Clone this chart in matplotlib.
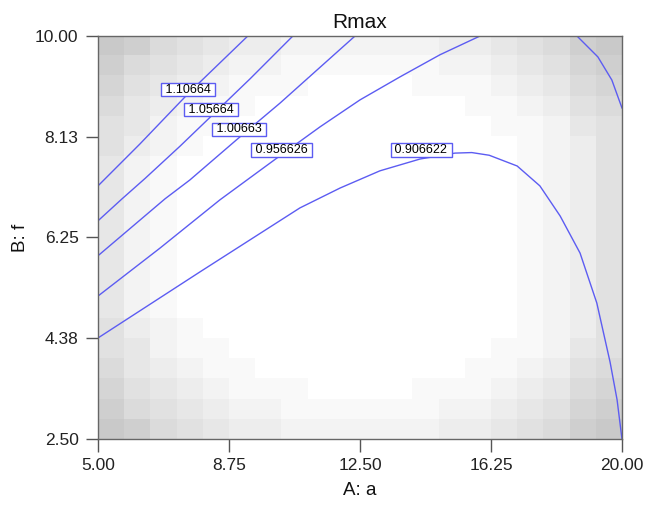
import numpy as np
import matplotlib.pyplot as plt

plt.rcParams['font.family'] = ['Liberation Sans', 'DejaVu Sans']

# design space shading, 0 = white .. 9 = darkest, top row (f = 10) first
shade_rows = [
    "98654332222223345689",
    "86543221111112234578",
    "75432111000011123467",
    "64321100000000112356",
    "54211000000000011245",
    "53210000000000001235",
    "42100000000000001235",
    "42100000000000001235",
    "42100000000000001235",
    "42100000000000001235",
    "42100000000000001235",
    "42100000000000001235",
    "42100000000000001235",
    "42100000000000001235",
    "53210000000000001235",
    "54211000000000011245",
    "64321100000000112356",
    "75432111000011123467",
    "86543221111112234578",
    "98654332222223345689",
]

# contour lines of Rmax (A: a, B: f)
a_1106 = [5.00, 6.20, 7.63, 9.29]
f_1106 = [7.21, 7.99, 8.96, 10.00]

a_1057 = [5.00, 5.69, 6.35, 7.35, 8.23, 9.35, 10.58]
f_1057 = [6.56, 6.97, 7.35, 7.95, 8.50, 9.20, 10.00]

a_1007 = [5.00, 6.92, 7.63, 9.06, 10.21, 12.36]
f_1007 = [5.91, 6.97, 7.32, 8.12, 8.75, 10.00]

a_0957 = [5.00, 6.77, 8.49, 10.21, 11.36, 12.50, 13.65, 14.79, 15.94]
f_0957 = [5.16, 6.05, 6.95, 7.77, 8.31, 8.81, 9.24, 9.65, 10.00]

a_0907 = [5.00, 7.92, 10.78, 11.93, 13.07, 14.22, 15.22, 15.70, 16.20,
          17.00, 17.65, 18.23, 18.80, 19.28, 19.66, 19.86, 20.00]
f_0907 = [4.38, 5.61, 6.80, 7.17, 7.49, 7.71, 7.82, 7.83, 7.78,
          7.58, 7.21, 6.65, 5.96, 5.03, 3.93, 3.23, 2.50]

a_corner = [18.71, 19.31, 19.71, 20.00]
f_corner = [10.00, 9.61, 9.18, 8.66]

contour_labels = ["1.10664", "1.05664", "1.00663", "0.956626", "0.906622"]
label_a = [7.58, 8.23, 9.04, 10.25, 14.25]
label_f = [9.00, 8.63, 8.26, 7.88, 7.88]

x_ticks = [5.0, 8.75, 12.5, 16.25, 20.0]
x_ticklabels = ["5.00", "8.75", "12.50", "16.25", "20.00"]
y_ticks = [2.5, 4.375, 6.25, 8.125, 10.0]
y_ticklabels = ["2.50", "4.38", "6.25", "8.13", "10.00"]

line_color = '#5c5cf2'

shade = np.array([[int(c) for c in row] for row in shade_rows])
gray = 1 - shade * 6 / 255.0

fig = plt.figure(figsize=(6.46, 5.07), dpi=100)
ax = fig.add_axes([0.1517, 0.1341, 0.8111, 0.795])

ax.imshow(gray, cmap='gray', vmin=0, vmax=1, extent=[5, 20, 2.5, 10],
          origin='upper', aspect='auto', interpolation='nearest', zorder=0)

for a, f in [(a_1106, f_1106), (a_1057, f_1057), (a_1007, f_1007),
             (a_0957, f_0957), (a_0907, f_0907), (a_corner, f_corner)]:
    ax.plot(a, f, color=line_color, lw=1.0, zorder=2)

for txt, a, f in zip(contour_labels, label_a, label_f):
    ax.text(a, f, " " + txt + " ", fontsize=9, ha='center', va='center',
            color='black', zorder=3,
            bbox=dict(boxstyle='square,pad=0.06', fc='white',
                      ec=line_color, lw=1.0))

ax.set_xlim(5, 20)
ax.set_ylim(2.5, 10)
ax.set_xticks(x_ticks)
ax.set_xticklabels(x_ticklabels)
ax.set_yticks(y_ticks)
ax.set_yticklabels(y_ticklabels)
ax.tick_params(axis='both', labelsize=12.5, colors='#555555',
               labelcolor='#222222', length=9, width=1.0, pad=5)

for sp in ax.spines.values():
    sp.set_color('#666666')
    sp.set_linewidth(1.0)

ax.set_title("Rmax", fontsize=15, pad=6, color='#111111')
ax.set_xlabel("A: a", fontsize=13.5, labelpad=6, color='#111111')
ax.set_ylabel("B: f", fontsize=13.5, labelpad=4, color='#111111')

fig.savefig('out.png', dpi=100)
